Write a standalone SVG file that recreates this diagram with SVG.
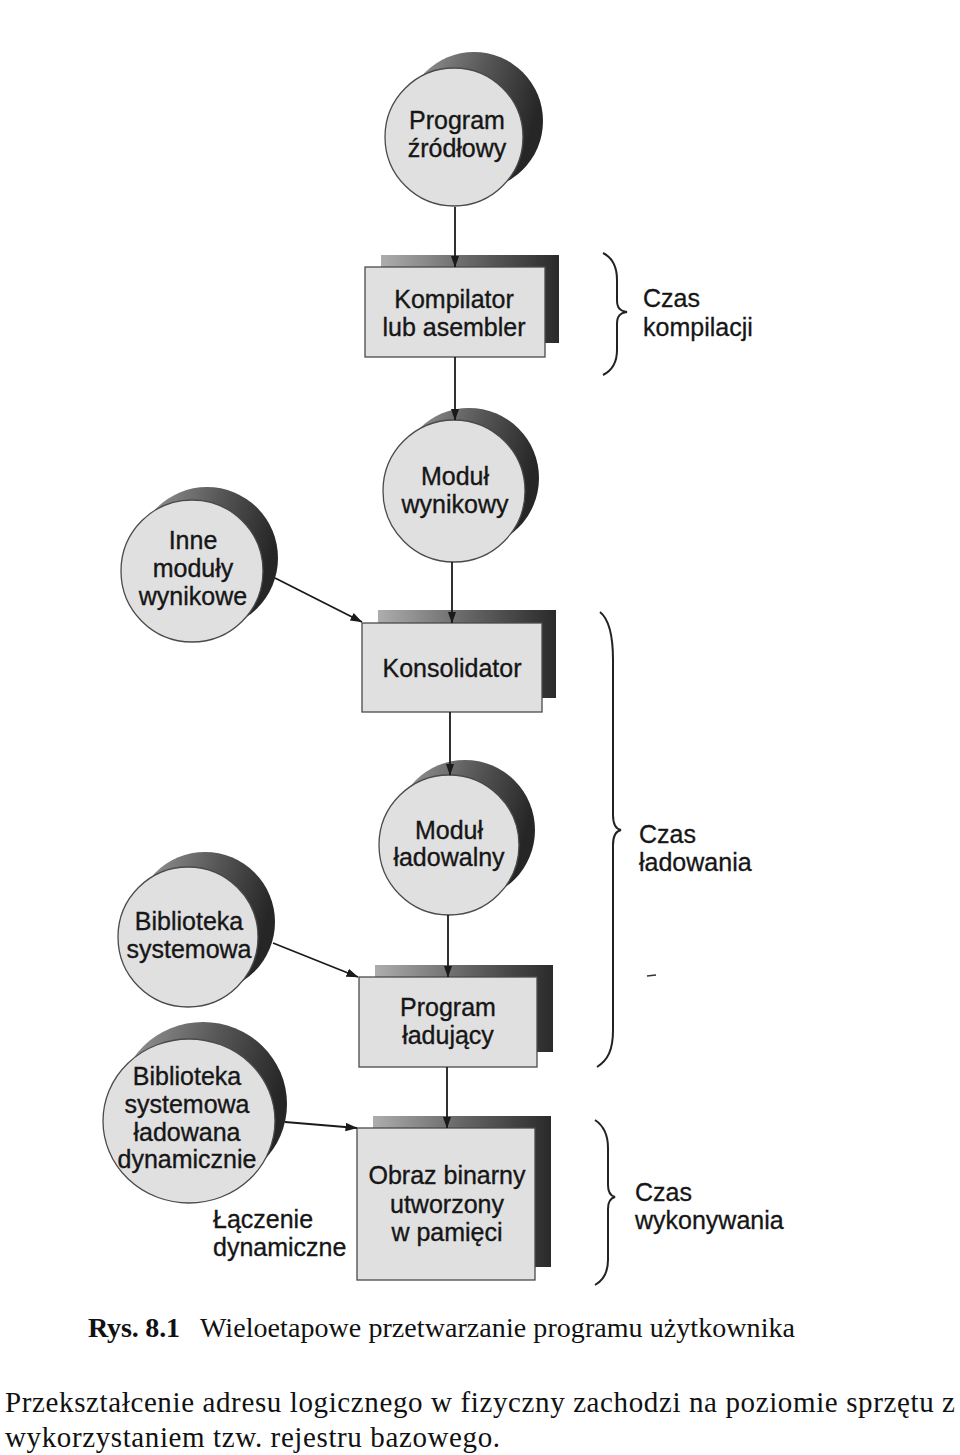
<svg xmlns="http://www.w3.org/2000/svg" width="960" height="1455" viewBox="0 0 960 1455">
<defs>
<linearGradient id="shadeC" x1="0" y1="0" x2="1" y2="0.3">
<stop offset="0" stop-color="#a0a0a0"/>
<stop offset="0.55" stop-color="#585858"/>
<stop offset="1" stop-color="#262626"/>
</linearGradient>
<linearGradient id="shadeB" x1="0" y1="0" x2="1" y2="0">
<stop offset="0" stop-color="#adadad"/>
<stop offset="0.5" stop-color="#666"/>
<stop offset="1" stop-color="#2a2a2a"/>
</linearGradient>
<marker id="arr" viewBox="0 0 12 10" refX="11.5" refY="5" markerWidth="12" markerHeight="10" markerUnits="userSpaceOnUse" orient="auto">
<path d="M0,0.8 L12,5 L0,9.2 Z" fill="#1a1a1a"/>
</marker>
<style>
.face{fill:#e0e0e0;stroke:#4a4a4a;stroke-width:1.3}
.shc{fill:url(#shadeC)}
.shb{fill:url(#shadeB)}
.t{font-family:"Liberation Sans",Arial,sans-serif;font-size:25px;fill:#161616;stroke:#161616;stroke-width:0.35;text-anchor:middle}
.s{font-family:"Liberation Sans",Arial,sans-serif;font-size:25px;fill:#161616;stroke:#161616;stroke-width:0.3}
.c{stroke:#1a1a1a;stroke-width:1.8;fill:none;marker-end:url(#arr)}
.br{stroke:#222;stroke-width:2;fill:none}
.tm{font-family:"Liberation Serif","Times New Roman",serif;fill:#111}
</style>
</defs>
<rect width="960" height="1455" fill="#ffffff"/>

<g id="program-zrodlowy">
<circle class="shc" cx="474" cy="121" r="69"/>
<circle class="face" cx="454" cy="137" r="69"/>
<text class="t" x="457" y="129">Program</text>
<text class="t" x="457" y="157">źródłowy</text>
</g>

<g id="kompilator">
<rect class="shb" x="381" y="255" width="178" height="88"/>
<rect class="face" x="365" y="267" width="180" height="90"/>
<text class="t" x="454" y="308">Kompilator</text>
<text class="t" x="454" y="336">lub asembler</text>
</g>

<g id="modul-wynikowy">
<circle class="shc" cx="469" cy="478" r="70"/>
<circle class="face" cx="454" cy="491" r="71"/>
<text class="t" x="455" y="485">Moduł</text>
<text class="t" x="455" y="513">wynikowy</text>
</g>

<g id="inne-moduly">
<circle class="shc" cx="207" cy="558" r="71"/>
<circle class="face" cx="192" cy="571" r="71"/>
<text class="t" x="193" y="549">Inne</text>
<text class="t" x="193" y="577">moduły</text>
<text class="t" x="193" y="605">wynikowe</text>
</g>

<g id="konsolidator">
<rect class="shb" x="378" y="610" width="178" height="88"/>
<rect class="face" x="362" y="623" width="180" height="89"/>
<text class="t" x="452" y="677">Konsolidator</text>
</g>

<g id="modul-ladowalny">
<circle class="shc" cx="465" cy="830" r="70"/>
<circle class="face" cx="449" cy="845" r="70"/>
<text class="t" x="449" y="839">Moduł</text>
<text class="t" x="449" y="866">ładowalny</text>
</g>

<g id="biblioteka-systemowa">
<circle class="shc" cx="205" cy="922" r="70"/>
<circle class="face" cx="188" cy="937" r="70"/>
<text class="t" x="189" y="930">Biblioteka</text>
<text class="t" x="189" y="958">systemowa</text>
</g>

<g id="program-ladujacy">
<rect class="shb" x="375" y="965" width="178" height="87"/>
<rect class="face" x="359" y="977" width="178" height="90"/>
<text class="t" x="448" y="1016">Program</text>
<text class="t" x="448" y="1044">ładujący</text>
</g>

<g id="biblioteka-dynamiczna">
<ellipse class="shc" cx="203" cy="1104" rx="84" ry="82"/>
<ellipse class="face" cx="189" cy="1121" rx="86" ry="82"/>
<text class="t" x="187" y="1085">Biblioteka</text>
<text class="t" x="187" y="1113">systemowa</text>
<text class="t" x="187" y="1141">ładowana</text>
<text class="t" x="187" y="1168">dynamicznie</text>
</g>

<g id="obraz-binarny">
<rect class="shb" x="373" y="1116" width="178" height="151"/>
<rect class="face" x="357" y="1128" width="178" height="152"/>
<text class="t" x="447" y="1184">Obraz binarny</text>
<text class="t" x="447" y="1213">utworzony</text>
<text class="t" x="447" y="1241">w pamięci</text>
</g>

<g id="connectors">
<line class="c" x1="455" y1="207" x2="455" y2="267"/>
<line class="c" x1="455" y1="357" x2="455" y2="420"/>
<line class="c" x1="452" y1="562" x2="452" y2="623"/>
<line class="c" x1="275" y1="578" x2="362" y2="622"/>
<line class="c" x1="450" y1="712" x2="450" y2="775"/>
<line class="c" x1="448" y1="915" x2="448" y2="977"/>
<line class="c" x1="273" y1="943" x2="358" y2="977"/>
<line class="c" x1="447" y1="1067" x2="447" y2="1128"/>
<line class="c" x1="285" y1="1122" x2="357" y2="1128"/>
</g>

<g id="label-laczenie">
<text class="s" x="213" y="1228">Łączenie</text>
<text class="s" x="213" y="1256">dynamiczne</text>
</g>

<g id="czas-kompilacji">
<path class="br" d="M603,253 C613,258 617,268 617,280 L617,300 C617,308 620,311 627,312 C620,313 617,316 617,324 L617,350 C617,362 613,370 603,375"/>
<text class="s" x="643" y="307">Czas</text>
<text class="s" x="643" y="336">kompilacji</text>
</g>

<g id="czas-ladowania">
<path class="br" d="M600,612 C610,620 613,640 613,660 L613,815 C613,824 616,829 621,830 C616,831 613,836 613,845 L613,1030 C613,1050 608,1060 597,1067"/>
<text class="s" x="639" y="843">Czas</text>
<text class="s" x="639" y="871">ładowania</text>
<line x1="647" y1="976" x2="656" y2="975" stroke="#333" stroke-width="1.5"/>
</g>

<g id="czas-wykonywania">
<path class="br" d="M595,1120 C604,1126 608,1136 608,1148 L608,1185 C608,1192 611,1196 615,1197 C611,1198 608,1202 608,1209 L608,1260 C608,1272 604,1280 595,1285"/>
<text class="s" x="635" y="1201">Czas</text>
<text class="s" x="635" y="1229">wykonywania</text>
</g>

<g id="caption">
<text class="tm" x="88" y="1337" font-size="28" font-weight="bold" textLength="92">Rys. 8.1</text>
<text class="tm" x="200" y="1337" font-size="28" textLength="595">Wieloetapowe przetwarzanie programu użytkownika</text>
</g>

<g id="body-text">
<text class="tm" x="5" y="1412" font-size="29" fill="#000" textLength="950">Przekształcenie adresu logicznego w fizyczny zachodzi na poziomie sprzętu z</text>
<text class="tm" x="5" y="1447" font-size="29" fill="#000" textLength="495">wykorzystaniem tzw. rejestru bazowego.</text>
</g>
</svg>
